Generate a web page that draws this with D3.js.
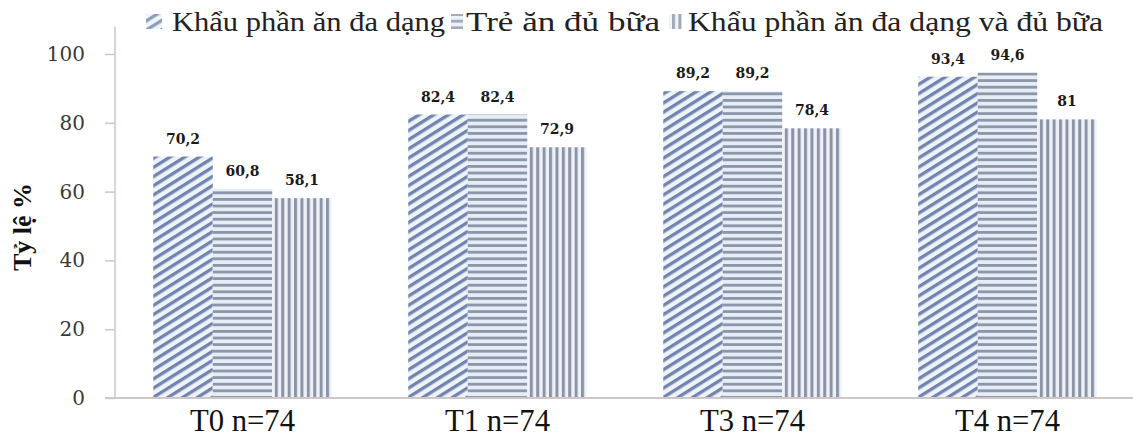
<!DOCTYPE html>
<html><head><meta charset="utf-8">
<script src="https://cdn.jsdelivr.net/npm/d3@7"></script>
<style>html,body{margin:0;padding:0;background:#fff;}svg{display:block;}</style>
</head><body>
<script>
const categories = ["T0 n=74","T1 n=74","T3 n=74","T4 n=74"];
const seriesNames = ["Khẩu phần ăn đa dạng","Trẻ ăn đủ bữa","Khẩu phần ăn đa dạng và đủ bữa"];
const divers = [70.2, 82.4, 89.2, 93.4];
const enoughMeals = [60.8, 82.4, 89.2, 94.6];
const both = [58.1, 72.9, 78.4, 81];
const yTicks = [0, 20, 40, 60, 80, 100];
const yTitle = "Tỷ lệ %";

const W = 1133, H = 439;
const svg = d3.select("body").append("svg").attr("width", W).attr("height", H);
const defs = svg.append("defs");

// patterns
const p1 = defs.append("pattern").attr("id","pat0").attr("patternUnits","userSpaceOnUse")
  .attr("width",8).attr("height",7.8).attr("patternTransform","rotate(-32)");
p1.append("rect").attr("width",8).attr("height",7.8).attr("fill","#eef2f9");
p1.append("rect").attr("y",0).attr("width",8).attr("height",3.3).attr("fill","#7084ad");
const p2 = defs.append("pattern").attr("id","pat1").attr("patternUnits","userSpaceOnUse")
  .attr("width",10).attr("height",6.6);
p2.append("rect").attr("width",10).attr("height",6.6).attr("fill","#e6edf7");
p2.append("rect").attr("y",0).attr("width",10).attr("height",2.8).attr("fill","#8c96a9");
const p3 = defs.append("pattern").attr("id","pat2").attr("patternUnits","userSpaceOnUse")
  .attr("width",6.4).attr("height",10);
p3.append("rect").attr("width",6.4).attr("height",10).attr("fill","#eef2f8");
p3.append("rect").attr("x",0).attr("width",3).attr("height",10).attr("fill","#8b94a6");

const x0 = d3.scaleBand().domain(categories).range([115, 1135]).paddingInner(0.3).paddingOuter(0.15);
const x1 = d3.scaleBand().domain([0,1,2]).range([0, x0.bandwidth()]).padding(0);
const y = d3.scaleLinear().domain([0, 100]).range([398, 54]);

const seriesData = [divers, enoughMeals, both];

// y axis
const yAxis = svg.append("g").attr("transform","translate(115,0)")
  .call(d3.axisLeft(y).tickValues(yTicks).tickSize(10).tickPadding(20).tickFormat(d3.format("d")));
yAxis.select(".domain").remove();
yAxis.selectAll(".tick line").attr("stroke","#cfc6c6").attr("stroke-width",1.5);
yAxis.selectAll(".tick text").attr("font-family","DejaVu Serif").attr("font-size",20).attr("fill","#3a3a3a");
svg.append("line").attr("x1",115).attr("x2",115).attr("y1",y(0)).attr("y2",y(108))
  .attr("stroke","#cfc6c6").attr("stroke-width",1.5);

// bars
categories.forEach((c, ci) => {
  const g = svg.append("g").attr("transform",`translate(${x0(c)},0)`);
  seriesData.forEach((arr, si) => {
    const v = arr[ci];
    g.append("rect").attr("x", x1(si)).attr("width", x1.bandwidth())
      .attr("y", y(v)).attr("height", y(0) - y(v))
      .attr("fill", `url(#pat${si})`);
    g.append("text").attr("x", x1(si) + x1.bandwidth()/2).attr("y", y(v) - 13)
      .attr("text-anchor","middle").attr("font-family","DejaVu Serif").attr("font-weight","bold")
      .attr("font-size",14).attr("fill","#1a1a1a").text(String(v).replace(".", ","));
  });
});

// baseline
svg.append("line").attr("x1",105).attr("x2",W).attr("y1",y(0)).attr("y2",y(0))
  .attr("stroke","#cfc6c6").attr("stroke-width",2);

// x labels
const xAxis = svg.append("g").attr("transform",`translate(0,${y(0)})`)
  .call(d3.axisBottom(x0).tickSize(0).tickPadding(0));
xAxis.select(".domain").remove();
xAxis.selectAll(".tick text").attr("font-family","Liberation Serif").attr("font-size",31)
  .attr("fill","#111").attr("dy",null).attr("y",33)
  .attr("textLength",105).attr("lengthAdjust","spacingAndGlyphs");

// y title
svg.append("text").attr("transform","translate(31,227) rotate(-90)").attr("text-anchor","middle")
  .attr("font-family","Liberation Serif").attr("font-weight","bold").attr("font-size",26)
  .attr("fill","#111").text(yTitle);

// legend
const legendItems = [
  {ix:146, iw:16, tx:172, tl:273},
  {ix:451, iw:12, tx:466, tl:194},
  {ix:669, iw:13, tx:688, tl:415}
];
legendItems.forEach((it, i) => {
  svg.append("rect").attr("x", it.ix).attr("y", 14).attr("width", it.iw).attr("height", 15)
    .attr("fill", `url(#pat${i})`).attr("opacity",0.8);
  svg.append("text").attr("x", it.tx).attr("y", 31).attr("font-family","Liberation Serif")
    .attr("font-size",27.5).attr("fill","#222").attr("textLength", it.tl)
    .attr("lengthAdjust","spacingAndGlyphs").text(seriesNames[i]);
});
</script>
</body></html>
